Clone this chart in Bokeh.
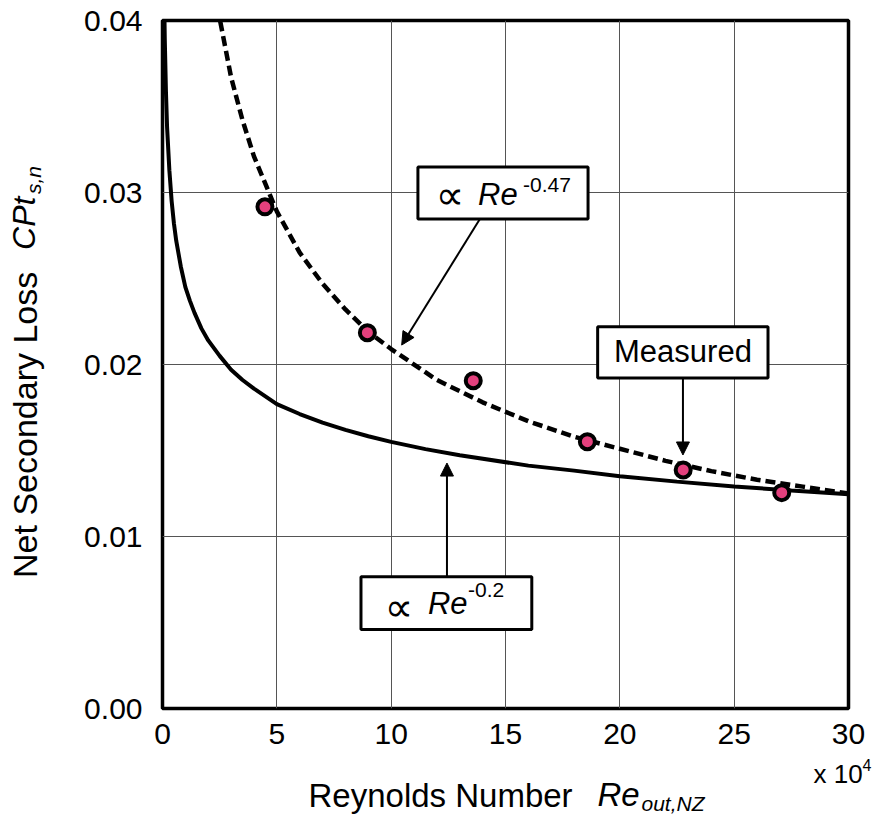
from bokeh.plotting import figure
from bokeh.layouts import row, column
from bokeh.models import Arrow, NormalHead, FixedTicker, Range1d
from bokeh.core.properties import value
from bokeh.embed import file_html
from bokeh.resources import INLINE
import math

# ---- data (x in units of 10^4) ----
x_ticks = [0, 5, 10, 15, 20, 25, 30]
y_ticks = [0.00, 0.01, 0.02, 0.03, 0.04]

meas_re = [4.48, 8.96, 13.59, 18.58, 22.77, 27.08]
meas_cpt = [0.02917, 0.02185, 0.01906, 0.01551, 0.01387, 0.01255]

fit02_re = [0.08, 0.1, 0.15, 0.2, 0.3, 0.4, 0.5, 0.6, 0.8, 1.0, 1.2, 1.4, 1.7, 2.0,
            2.5, 3.0, 3.5, 4.0, 5.0, 6.0, 7.0, 8.0, 9.0, 10, 11.5, 13, 16, 18, 20,
            22.5, 25, 27.5, 30]
fit02_cpt = [0.0407, 0.0389, 0.0359, 0.0338, 0.0313, 0.0295, 0.0282, 0.0272, 0.0257,
             0.0245, 0.0237, 0.0230, 0.0221, 0.0214, 0.0205, 0.0197, 0.0191, 0.0186,
             0.0177, 0.01712, 0.01662, 0.0162, 0.01583, 0.0155, 0.01508, 0.01472,
             0.01412, 0.01383, 0.0135, 0.01319, 0.01291, 0.01267, 0.01245]

fit047_re = [2.4, 3, 3.5, 4, 5, 6, 7, 8, 9, 10, 12, 14, 16, 18, 20, 22, 24, 26, 28, 30]
fit047_cpt = [0.0408, 0.0367, 0.0342, 0.0321, 0.0289, 0.0265, 0.0247, 0.0232, 0.0219,
              0.0209, 0.0191, 0.0178, 0.0167, 0.0158, 0.0151, 0.0144, 0.0138, 0.0133,
              0.0129, 0.0125]

FONT = "Liberation Sans"

MAIN_H = 758      # height of the chart figure (and left strip)
BOT_H = 816 - MAIN_H

# ---------------- main chart ----------------
p = figure(width=820, height=MAIN_H, x_range=(0, 30), y_range=(0, 0.04),
           min_border_left=102, min_border_right=32, min_border_top=20,
           min_border_bottom=MAIN_H - 20 - 688, output_backend="svg",
           toolbar_location=None, background_fill_color="white",
           border_fill_color="white")

p.outline_line_color = "black"
p.outline_line_width = 3.5

for ax in (p.xaxis, p.yaxis):
    ax.axis_line_color = None
    ax.major_tick_line_color = None
    ax.minor_tick_line_color = None
    ax.major_tick_out = 0
    ax.major_tick_in = 0
    ax.minor_tick_out = 0
    ax.major_label_text_font = FONT
    ax.major_label_text_font_size = "30px"
    ax.major_label_text_color = "black"

p.xaxis.ticker = FixedTicker(ticks=x_ticks)
p.yaxis.ticker = FixedTicker(ticks=y_ticks)
p.xaxis.major_label_overrides = {t: str(t) for t in x_ticks}
p.yaxis.major_label_overrides = {t: "%.2f" % t for t in y_ticks}
p.xaxis.major_label_standoff = 15
p.yaxis.major_label_standoff = 20

p.xgrid.grid_line_color = "#555555"
p.ygrid.grid_line_color = "#555555"
p.xgrid.grid_line_width = 1
p.ygrid.grid_line_width = 1

# curves
p.line(fit02_re, fit02_cpt, line_color="black", line_width=4)
p.line(fit047_re, fit047_cpt, line_color="black", line_width=4.5, line_dash="10 5")

# measured points
p.scatter(meas_re, meas_cpt, size=15, fill_color="#e3407d", line_color="black",
          line_width=4)

# annotation boxes
p.quad(left=[11.17, 19.03, 8.68], right=[18.61, 26.48, 16.15],
       bottom=[0.02846, 0.01922, 0.00460], top=[0.03148, 0.02220, 0.00766],
       fill_color="white", line_color="black", line_width=3)


def txt(fig, x, y, s, size, style="normal", font=FONT, align="left", angle=0.0):
    # anchor y is the vertical centre of the capitals
    fig.text(x=[x], y=[y], text=[s], text_font=value(font), text_font_size=size,
             text_font_style=style, text_color="black", text_align=align,
             text_baseline="middle", angle=angle)


# box 1: prop Re^-0.47
txt(p, 11.95, 0.02985, "\u221d", "40px", font="DejaVu Sans")
txt(p, 13.80, 0.02991, "Re", "31px", style="italic")
txt(p, 15.77, 0.03044, "-0.47", "21px")
# box 2: Measured
txt(p, 22.76, 0.02078, "Measured", "31px", align="center")
# box 3: prop Re^-0.2
txt(p, 9.72, 0.00592, "\u221d", "40px", font="DejaVu Sans")
txt(p, 11.61, 0.00608, "Re", "31px", style="italic")
txt(p, 13.36, 0.00689, "-0.2", "21px")

# arrows
for (xs, ys, xe, ye) in [(13.88, 0.02846, 10.46, 0.02113),
                         (22.76, 0.01922, 22.76, 0.01474),
                         (12.44, 0.00766, 12.44, 0.01427)]:
    p.add_layout(Arrow(end=NormalHead(size=13, fill_color="black", line_color="black"),
                       x_start=xs, y_start=ys, x_end=xe, y_end=ye,
                       line_color="black", line_width=2))


# ---------------- title strips ----------------
def strip(w, h, xr, yr):
    f = figure(width=w, height=h, x_range=xr, y_range=yr, title=None,
               x_axis_type=None, y_axis_type=None, min_border=0,
               min_border_left=0, min_border_right=0, min_border_top=0,
               min_border_bottom=0, output_backend="svg", toolbar_location=None,
               background_fill_color="white", border_fill_color="white")
    f.outline_line_color = None
    return f


# left strip: y-axis title, shares the chart's y scale
l = strip(60, MAIN_H, Range1d(0, 60), p.y_range)
txt(l, 24, 0.00759, "Net Secondary Loss", "34px", angle=math.pi / 2)
txt(l, 23, 0.02666, "CPt", "32px", style="italic", angle=math.pi / 2)
txt(l, 33, 0.02991, "s,n", "21px", style="italic", angle=math.pi / 2)

# bottom strip: x-axis title and multiplier, pixels measured up from canvas bottom
b = strip(880, BOT_H, Range1d(0, 880), Range1d(0, BOT_H))
txt(b, 308, 21.5, "Reynolds Number", "33px")
txt(b, 597, 22.5, "Re", "33px", style="italic")
txt(b, 641, 13.3, "out,NZ", "21px", style="italic")
txt(b, 813, 43, "x 10", "26px")
txt(b, 862, 51.5, "4", "16px")

layout = column(row(l, p), b)

open("out.html", "w").write(file_html(layout, INLINE))
